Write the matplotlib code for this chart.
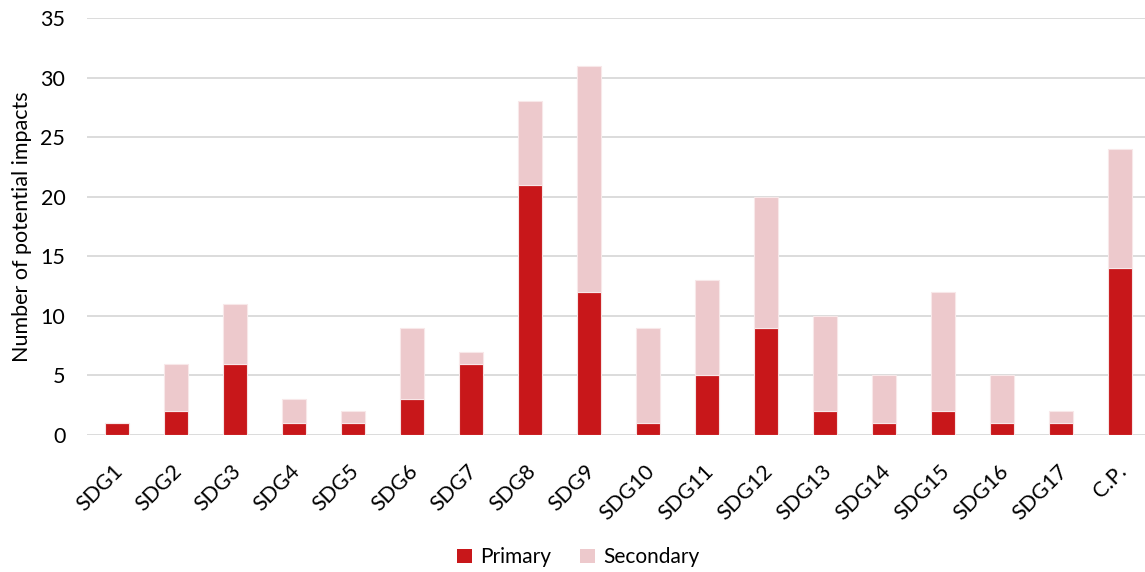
import matplotlib
matplotlib.use("Agg")
import matplotlib.pyplot as plt
from matplotlib.patches import Patch
from matplotlib.transforms import ScaledTranslation

plt.rcParams['font.family'] = ['Lato', 'DejaVu Sans']

categories = ["SDG1", "SDG2", "SDG3", "SDG4", "SDG5", "SDG6", "SDG7", "SDG8", "SDG9",
              "SDG10", "SDG11", "SDG12", "SDG13", "SDG14", "SDG15", "SDG16", "SDG17", "C.P."]
primary = [1, 2, 6, 1, 1, 3, 6, 21, 12, 1, 5, 9, 2, 1, 2, 1, 1, 14]
secondary = [0, 4, 5, 2, 1, 6, 1, 7, 19, 8, 8, 11, 8, 4, 10, 4, 1, 10]
yticks = [0, 5, 10, 15, 20, 25, 30, 35]

c_primary = "#C8171A"
c_secondary = "#EDC9CC"

fig = plt.figure(figsize=(11.45, 5.72), dpi=100)
ax = fig.add_axes([0.0764, 0.2395, 0.9236, 0.729])

x = list(range(len(categories)))
ax.bar(x, primary, width=0.4, color=c_primary, edgecolor="#F6E3E4", linewidth=0.8, zorder=3)
ax.bar(x, secondary, width=0.4, bottom=primary, color=c_secondary,
       edgecolor="#F8E8E9", linewidth=0.8, zorder=3)

ax.set_xlim(-0.5, 17.42)
ax.set_ylim(0, 35)
ax.set_yticks(yticks)
ax.yaxis.grid(True, color="#D9D9D9", linewidth=1.3, zorder=0)
ax.set_axisbelow(True)
for s in ax.spines.values():
    s.set_visible(False)
ax.tick_params(axis="both", length=0, labelsize=15.5, colors="#000000")
ax.tick_params(axis="y", pad=16)
ax.set_xticks(x)
ax.set_xticklabels(categories, rotation=45, ha="right", rotation_mode="anchor")
ax.tick_params(axis="x", pad=19)
shift = ScaledTranslation(-4 / 100, 0, fig.dpi_scale_trans)
for lbl in ax.get_xticklabels():
    lbl.set_transform(lbl.get_transform() + shift)
ax.set_ylabel("Number of potential impacts", fontsize=15.5, labelpad=6)

handles = [Patch(facecolor=c_primary, label="Primary"),
           Patch(facecolor=c_secondary, label="Secondary")]
fig.legend(handles=handles, loc="center", bbox_to_anchor=(0.505, 0.026), ncol=2,
           frameon=False, fontsize=15, handlelength=0.7, handleheight=0.7,
           handletextpad=0.4, columnspacing=1.4)

fig.savefig("out.png", dpi=100)
